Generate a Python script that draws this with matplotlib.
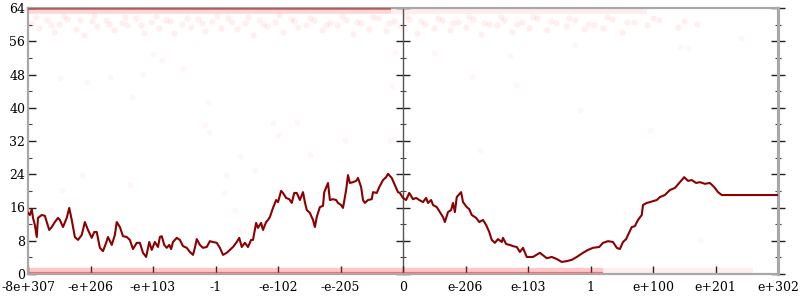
import matplotlib.pyplot as plt
from matplotlib.ticker import MultipleLocator

# tick labels on the x axis (positions 0..12)
x_labels = ["-8e+307", "-e+206", "-e+103", "-1", "-e-102", "-e-205", "0",
            "e-206", "e-103", "1", "e+100", "e+201", "e+302"]

# running line (x in tick units, y in value)
line_x = [0.00, 0.03, 0.06, 0.08, 0.11, 0.14, 0.16, 0.22, 0.27, 0.30, 0.34, 0.38,
          0.43, 0.48, 0.51, 0.56, 0.62, 0.66, 0.70, 0.75, 0.80, 0.86, 0.91, 0.96,
          1.02, 1.06, 1.10, 1.15, 1.20, 1.25, 1.28, 1.34, 1.39, 1.42, 1.47, 1.52,
          1.58, 1.63, 1.68, 1.74, 1.79, 1.84, 1.89, 1.94, 1.98, 2.03, 2.08, 2.11,
          2.14, 2.18, 2.22, 2.26, 2.29, 2.32, 2.38, 2.43, 2.48, 2.54, 2.59, 2.64,
          2.67, 2.70, 2.75, 2.80, 2.86, 2.91, 2.96, 3.02, 3.07, 3.12, 3.18, 3.23,
          3.28, 3.34, 3.38, 3.42, 3.47, 3.52, 3.57, 3.60, 3.65, 3.68, 3.73, 3.76,
          3.81, 3.84, 3.87, 3.92, 3.97, 4.00, 4.05, 4.08, 4.13, 4.18, 4.22, 4.26,
          4.30, 4.35, 4.40, 4.43, 4.46, 4.51, 4.56, 4.59, 4.62, 4.67, 4.72, 4.74,
          4.80, 4.83, 4.88, 4.93, 4.96, 5.01, 5.04, 5.09, 5.12, 5.15, 5.20, 5.25,
          5.28, 5.33, 5.36, 5.39, 5.44, 5.50, 5.52, 5.58, 5.62, 5.68, 5.73, 5.76,
          5.82, 5.87, 5.92, 5.95, 6.00, 6.05, 6.10, 6.16, 6.21, 6.26, 6.32, 6.37,
          6.40, 6.45, 6.48, 6.54, 6.59, 6.64, 6.67, 6.72, 6.77, 6.80, 6.83, 6.86,
          6.93, 6.96, 7.02, 7.06, 7.10, 7.17, 7.22, 7.28, 7.33, 7.38, 7.42, 7.47,
          7.52, 7.58, 7.60, 7.65, 7.71, 7.76, 7.82, 7.87, 7.92, 7.98, 8.08, 8.19,
          8.30, 8.38, 8.46, 8.54, 8.62, 8.70, 8.78, 8.88, 8.96, 9.04, 9.14, 9.20,
          9.28, 9.36, 9.42, 9.47, 9.52, 9.57, 9.60, 9.66, 9.71, 9.76, 9.82, 9.84,
          9.90, 9.95, 10.06, 10.11, 10.19, 10.27, 10.35, 10.43, 10.50, 10.56, 10.62,
          10.69, 10.75, 10.83, 10.91, 10.98, 11.04, 11.10, 12.00]
line_y = [14.7, 14.2, 15.6, 13.5, 11.8, 8.9, 13.5, 14.2, 14.0, 12.5, 10.6, 11.3,
          12.5, 13.5, 13.0, 11.3, 13.5, 15.9, 13.0, 8.9, 8.2, 9.4, 12.5, 10.6,
          8.7, 10.1, 10.1, 6.3, 5.5, 7.5, 8.9, 7.0, 9.4, 12.5, 11.3, 9.1,
          8.9, 8.2, 6.0, 7.5, 7.5, 5.1, 4.1, 7.7, 5.8, 7.7, 6.5, 8.9,
          9.1, 7.0, 6.3, 7.0, 6.0, 7.7, 8.7, 8.2, 6.7, 6.3, 5.3, 4.6,
          6.3, 8.4, 7.0, 6.3, 6.5, 7.9, 7.7, 7.5, 6.3, 4.6, 5.1, 5.8,
          6.5, 7.7, 8.7, 6.5, 7.5, 6.5, 8.2, 8.2, 12.3, 11.1, 12.3, 10.6,
          12.5, 13.0, 13.7, 15.9, 17.8, 17.3, 20.0, 19.5, 18.3, 18.0, 17.1, 19.5,
          19.5, 17.8, 19.7, 17.3, 15.4, 14.7, 13.0, 11.3, 13.7, 16.1, 16.4, 19.7,
          21.9, 17.8, 18.0, 17.8, 17.1, 16.6, 15.9, 20.2, 23.8, 21.9, 22.1, 22.4,
          23.1, 20.9, 17.8, 17.1, 17.8, 18.0, 19.7, 19.5, 20.9, 22.6, 23.3, 24.1,
          23.1, 21.4, 19.7, 19.5, 18.3, 17.8, 19.5, 18.0, 18.3, 17.8, 17.3, 18.3,
          17.1, 17.8, 16.6, 16.1, 14.9, 13.7, 12.5, 14.9, 15.4, 17.1, 14.9, 18.5,
          19.7, 17.3, 16.1, 15.6, 14.2, 13.5, 12.5, 13.0, 11.8, 10.1, 8.2, 7.5,
          8.4, 7.7, 8.7, 7.2, 7.0, 6.7, 6.5, 5.3, 6.3, 4.1, 4.1, 5.1,
          3.8, 4.1, 3.6, 2.9, 3.1, 3.4, 4.1, 5.1, 5.8, 6.3, 6.5, 7.5,
          7.9, 7.7, 6.3, 6.0, 7.7, 8.4, 9.4, 11.3, 11.5, 13.0, 14.2, 16.6,
          17.1, 17.3, 17.8, 18.5, 19.0, 20.2, 20.7, 22.1, 23.3, 22.4, 22.6,
          21.9, 22.1, 21.7, 21.9, 20.9, 19.7, 19.0, 19.0]

# faint cloud of points just under the top
cloud_x = [0.05, 0.18, 0.3, 0.42, 0.5, 0.63, 0.77, 0.9, 1.02, 1.1, 1.25, 1.37, 1.5,
           1.58, 1.72, 1.85, 1.97, 2.1, 2.2, 2.33, 2.47, 2.6, 2.72, 2.83, 2.95, 3.08,
           3.2, 3.35, 3.47, 3.6, 3.7, 3.82, 3.95, 4.08, 4.2, 4.32, 4.45, 4.58, 4.7,
           4.83, 4.95, 5.08, 5.2, 5.33, 5.45, 5.6, 5.72, 5.85, 5.97, 6.1, 6.22, 6.35,
           6.5, 6.62, 6.75, 6.88, 7.0, 7.12, 7.25, 7.38, 7.5, 7.62, 7.75, 7.9, 8.02,
           8.15, 8.3, 8.45, 8.6, 8.75, 8.9, 9.05, 9.2, 9.35, 9.5, 9.7, 9.9, 10.1,
           10.4, 10.7]
cloud_y = [60.5, 59.2, 61.0, 58.3, 60.1, 61.4, 59.0, 57.6, 60.8, 59.6, 61.2, 58.7,
           60.3, 59.9, 61.5, 58.1, 60.6, 59.3, 61.1, 57.9, 60.2, 59.5, 61.3, 58.5,
           60.9, 59.1, 61.6, 58.9, 60.4, 57.4, 61.0, 59.7, 60.7, 58.2, 61.4, 59.4,
           60.0, 61.2, 58.6, 60.5, 59.8, 61.1, 57.8, 60.3, 59.0, 61.5, 58.4, 60.8,
           59.6, 61.3, 58.0, 60.1, 59.2, 61.0, 58.8, 60.6, 59.5, 61.4, 57.7, 60.2,
           59.9, 61.2, 58.3, 60.7, 59.1, 61.6, 58.6, 60.4, 59.7, 61.1, 58.9, 60.0,
           59.3, 61.3, 58.2, 60.6, 59.8, 61.0, 59.4, 60.2]
cloud2_x = [0.12, 0.36, 0.58, 0.83, 1.06, 1.3, 1.55, 1.8, 2.04, 2.27, 2.55, 2.78,
            3.02, 3.27, 3.52, 3.76, 4.02, 4.26, 4.51, 4.76, 5.02, 5.26, 5.52, 5.78,
            6.04, 6.28, 6.56, 6.8, 7.06, 7.3, 7.56, 7.82, 8.08, 8.36, 8.66, 8.96,
            9.26, 9.58, 10.0, 10.5]
cloud2_y = [61.8, 60.0, 62.0, 61.0, 62.2, 60.2, 61.9, 59.8, 62.1, 60.9, 61.7, 60.3,
            62.0, 60.6, 61.8, 60.1, 62.2, 60.8, 61.6, 60.0, 62.1, 60.7, 61.9, 60.4,
            62.0, 60.9, 61.7, 60.3, 62.1, 60.5, 61.8, 60.2, 61.9, 60.8, 61.6, 60.1,
            61.8, 60.6, 61.5, 60.9]

# scattered stray points
sparse_x = [0.51, 0.94, 1.31, 1.84, 2.0, 2.14, 2.48, 1.66, 2.88, 2.83, 2.9, 3.92,
            4.0, 4.3, 3.39, 4.51, 5.07, 5.79, 3.63, 3.17, 3.14, 5.87, 6.5, 7.1,
            7.81, 5.82, 7.71, 8.75, 10.43, 10.56, 11.41, 3.39, 3.31, 1.63, 0.35,
            0.54, 0.86, 6.03, 8.83, 9.95, 10.75, 7.23]
sparse_y = [47.2, 46.2, 47.4, 48.1, 52.9, 51.5, 49.6, 42.6, 41.4, 35.9, 34.2, 36.3,
            33.4, 36.6, 28.4, 28.6, 32.2, 32.2, 25.0, 23.8, 19.5, 53.4, 53.2, 47.4,
            45.5, 45.2, 52.5, 55.1, 54.6, 54.4, 56.8, 10.6, 15.4, 21.4, 15.4,
            20.2, 23.8, 8.2, 39.5, 34.6, 8.2, 29.8]

# dense bands of points at the bottom (near 0) and top (near 64)
band_low_dense = (0.0, 9.2)
band_low_faint = (9.2, 11.6)
band_top_dense = (0.0, 5.8)
band_top_faint = (5.8, 9.9)

fig = plt.figure(figsize=(8, 3), dpi=100)
ax = fig.add_axes([28 / 800, 26 / 300, 750 / 800, 266 / 300])
ax.set_xlim(0, 12)
ax.set_ylim(0, 64)

red = "#ff2020"
# bottom band
ax.hlines(0.7, *band_low_dense, color=red, lw=4.5, alpha=0.25, clip_on=False, zorder=2)
ax.hlines(0.35, *band_low_dense, color=red, lw=1.6, alpha=0.55, clip_on=False, zorder=2)
ax.hlines(0.7, *band_low_faint, color=red, lw=4.5, alpha=0.07, clip_on=False, zorder=2)
ax.hlines(0.1, *band_low_faint, color="#c04040", lw=1.2, alpha=0.35, clip_on=False, zorder=2)
# top band
ax.hlines(63.2, *band_top_dense, color=red, lw=4.0, alpha=0.18, clip_on=False, zorder=2)
ax.hlines(63.85, *band_top_dense, color="#a01010", lw=1.2, alpha=0.55, clip_on=False, zorder=3)
ax.hlines(63.2, *band_top_faint, color=red, lw=4.0, alpha=0.08, clip_on=False, zorder=2)

ax.scatter(cloud_x, cloud_y, s=20, color=red, alpha=0.07, linewidths=0, zorder=2)
ax.scatter(cloud2_x, cloud2_y, s=20, color=red, alpha=0.07, linewidths=0, zorder=2)
ax.scatter(sparse_x, sparse_y, s=20, color=red, alpha=0.035, linewidths=0, zorder=2)

ax.plot(line_x, line_y, color="#8b0000", lw=1.5, zorder=5)

# frame
for side in ["left", "top", "right", "bottom"]:
    ax.spines[side].set_color("#a8a8a8")
    ax.spines[side].set_linewidth(1.6)
ax.spines["right"].set_linewidth(2.2)

ax.set_xticks(range(13))
ax.set_xticklabels(x_labels)
ax.set_yticks(range(0, 65, 8))
ax.yaxis.set_minor_locator(MultipleLocator(4))
ax.tick_params(axis="x", direction="in", length=6, width=1, color="#222222", pad=5,
               labelsize=9)
ax.tick_params(axis="y", which="major", direction="in", length=6, width=1,
               color="#222222", pad=2, labelsize=9)
ax.tick_params(axis="y", which="minor", direction="in", length=3, width=0.8,
               color="#444444")
for lab in ax.get_xticklabels() + ax.get_yticklabels():
    lab.set_family("DejaVu Serif")

# center and right axes with crossing ticks
for loc in [0.5, "right"]:
    sec = ax.secondary_yaxis(loc)
    sec.set_yticks(range(0, 65, 8))
    sec.yaxis.set_minor_locator(MultipleLocator(4))
    sec.tick_params(which="major", direction="inout", length=10, width=1,
                    color="#222222", labelright=False, labelleft=False)
    sec.tick_params(which="minor", direction="inout", length=5, width=0.8,
                    color="#444444")
    for sp in sec.spines.values():
        sp.set_color("#555555" if loc == 0.5 else "#a8a8a8")
        sp.set_linewidth(1.0 if loc == 0.5 else 2.2)

fig.savefig("out.png", dpi=100)
